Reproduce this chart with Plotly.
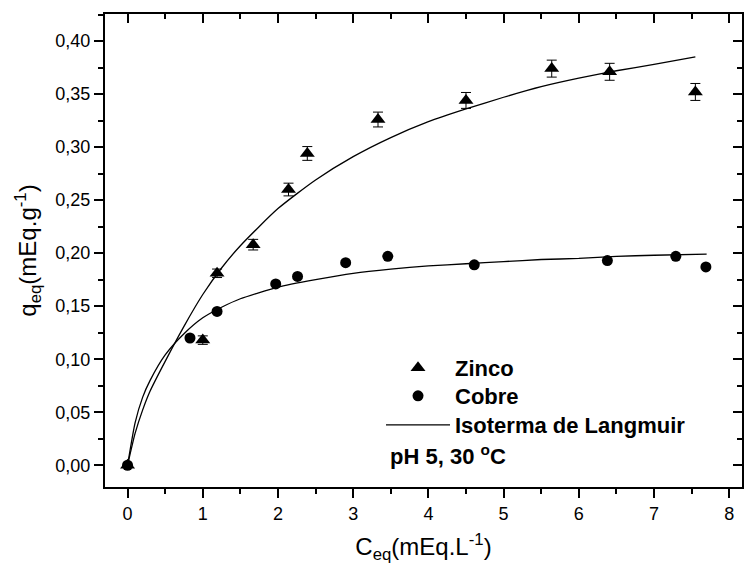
import plotly.graph_objects as go

# Equilibrium data (C_eq in mEq/L, q_eq in mEq/g)
c_zinco = [0.00, 1.00, 1.19, 1.67, 2.14, 2.39, 3.33, 4.50, 5.64, 6.41, 7.55]
q_zinco = [0.000, 0.118, 0.181, 0.208, 0.260, 0.294, 0.326, 0.344, 0.374, 0.371, 0.352]
err_zinco = [0.000, 0.004, 0.004, 0.005, 0.006, 0.0065, 0.007, 0.0075, 0.008, 0.008, 0.008]

c_cobre = [0.00, 0.83, 1.19, 1.97, 2.26, 2.90, 3.46, 4.61, 6.38, 7.29, 7.69]
q_cobre = [0.000, 0.120, 0.145, 0.171, 0.178, 0.191, 0.197, 0.189, 0.193, 0.197, 0.187]

# Langmuir isotherm curves
c_lang_zn = [0.0, 0.1, 0.2, 0.3, 0.5, 0.75, 1.0, 1.25, 1.5, 2.0, 2.5, 3.0, 3.5, 4.0,
             4.5, 5.0, 5.5, 6.0, 6.5, 7.0, 7.55]
q_lang_zn = [0.000, 0.030, 0.052, 0.070, 0.098, 0.131, 0.161, 0.186, 0.207, 0.242, 0.269,
             0.291, 0.309, 0.324, 0.336, 0.347, 0.357, 0.365, 0.372, 0.378, 0.385]
c_lang_cu = [0.0, 0.1, 0.2, 0.3, 0.5, 0.75, 1.0, 1.25, 1.5, 2.0, 2.5, 3.0, 3.5, 4.0,
             4.5, 5.0, 5.5, 6.0, 6.5, 7.0, 7.7]
q_lang_cu = [0.000, 0.040, 0.064, 0.080, 0.104, 0.124, 0.139, 0.149, 0.157, 0.168, 0.175,
             0.181, 0.185, 0.188, 0.190, 0.192, 0.194, 0.195, 0.197, 0.198, 0.199]

x_ticks = [0, 1, 2, 3, 4, 5, 6, 7, 8]
y_ticks = [0.00, 0.05, 0.10, 0.15, 0.20, 0.25, 0.30, 0.35, 0.40]

FONT = "Liberation Sans, Arial, sans-serif"
X_RANGE = [-0.3, 8.17]
Y_RANGE = [-0.0205, 0.4255]

fig = go.Figure()

fig.add_trace(go.Scatter(
    x=c_zinco, y=q_zinco, mode="markers", name="Zinco", legend="legend",
    marker=dict(symbol="triangle-up", size=13, color="black"),
    error_y=dict(type="data", array=err_zinco, visible=True,
                 color="black", thickness=1, width=5),
))
fig.add_trace(go.Scatter(
    x=c_cobre, y=q_cobre, mode="markers", name="Cobre", legend="legend2",
    marker=dict(symbol="circle", size=11, color="black"),
))
fig.add_trace(go.Scatter(
    x=c_lang_zn, y=q_lang_zn, mode="lines", name="Isoterma de Langmuir",
    legend="legend3",
    line=dict(color="black", width=1.3, shape="spline", smoothing=0.6),
))
fig.add_trace(go.Scatter(
    x=c_lang_cu, y=q_lang_cu, mode="lines", name="Isoterma de Langmuir",
    showlegend=False,
    line=dict(color="black", width=1.3, shape="spline", smoothing=0.6),
))

axis_common = dict(
    showline=True, linecolor="black", linewidth=2, mirror=False,
    showgrid=False, zeroline=False,
    tickcolor="black", tickwidth=1.5, ticklen=9,
)

fig.update_xaxes(
    **axis_common, range=X_RANGE, tickvals=x_ticks, ticks="outside",
    minor=dict(ticks="outside", dtick=0.5, tick0=0, ticklen=5,
               tickwidth=1.5, tickcolor="black"),
    tickfont=dict(family=FONT, size=18, color="black"),
    title=dict(text="C<sub>eq</sub>(mEq.L<sup>-1</sup>)",
               font=dict(family=FONT, size=24, color="black"), standoff=16),
)
fig.update_yaxes(
    **axis_common, range=Y_RANGE, tickvals=y_ticks, ticks="outside",
    tickformat=".2f",
    minor=dict(ticks="outside", dtick=0.025, tick0=0, ticklen=5,
               tickwidth=1.5, tickcolor="black"),
    tickfont=dict(family=FONT, size=18, color="black"),
    title=dict(text="q<sub>eq</sub>(mEq.g<sup>-1</sup>)",
               font=dict(family=FONT, size=24, color="black"), standoff=12),
)

# Top and right frame with inward ticks
fig.update_layout(
    xaxis2=dict(**axis_common, overlaying="x", side="top", range=X_RANGE,
                tickvals=x_ticks, ticks="inside", showticklabels=False,
                minor=dict(ticks="inside", dtick=0.5, tick0=0, ticklen=5,
                           tickwidth=1.5, tickcolor="black")),
    yaxis2=dict(**axis_common, overlaying="y", side="right", range=Y_RANGE,
                tickvals=y_ticks, ticks="inside", showticklabels=False,
                minor=dict(ticks="inside", dtick=0.025, tick0=0, ticklen=5,
                           tickwidth=1.5, tickcolor="black")),
)
# empty trace so the overlay axes are drawn
fig.add_trace(go.Scatter(x=[None], y=[None], xaxis="x2", yaxis="y2",
                         showlegend=False, hoverinfo="skip"))

fig.add_annotation(
    text="<b>pH 5, 30 <sup>o</sup>C</b>", xref="paper", yref="paper",
    x=0.445, y=0.068, xanchor="left", yanchor="middle", showarrow=False,
    font=dict(family=FONT, size=22, color="black"),
)

legend_style = dict(
    x=0.4333, xanchor="left", yanchor="top",
    bgcolor="rgba(0,0,0,0)", borderwidth=0, itemwidth=64,
    font=dict(family=FONT, size=22, color="black", weight="bold"),
)

fig.update_layout(
    width=744, height=568,
    margin=dict(l=105, r=2, t=14, b=81, autoexpand=False),
    paper_bgcolor="white", plot_bgcolor="white",
    separators=",.",
    showlegend=True,
    legend=dict(**legend_style, y=0.296),
    legend2=dict(**legend_style, y=0.2368),
    legend3=dict(**legend_style, y=0.1755),
)

fig.write_html("out.html")
